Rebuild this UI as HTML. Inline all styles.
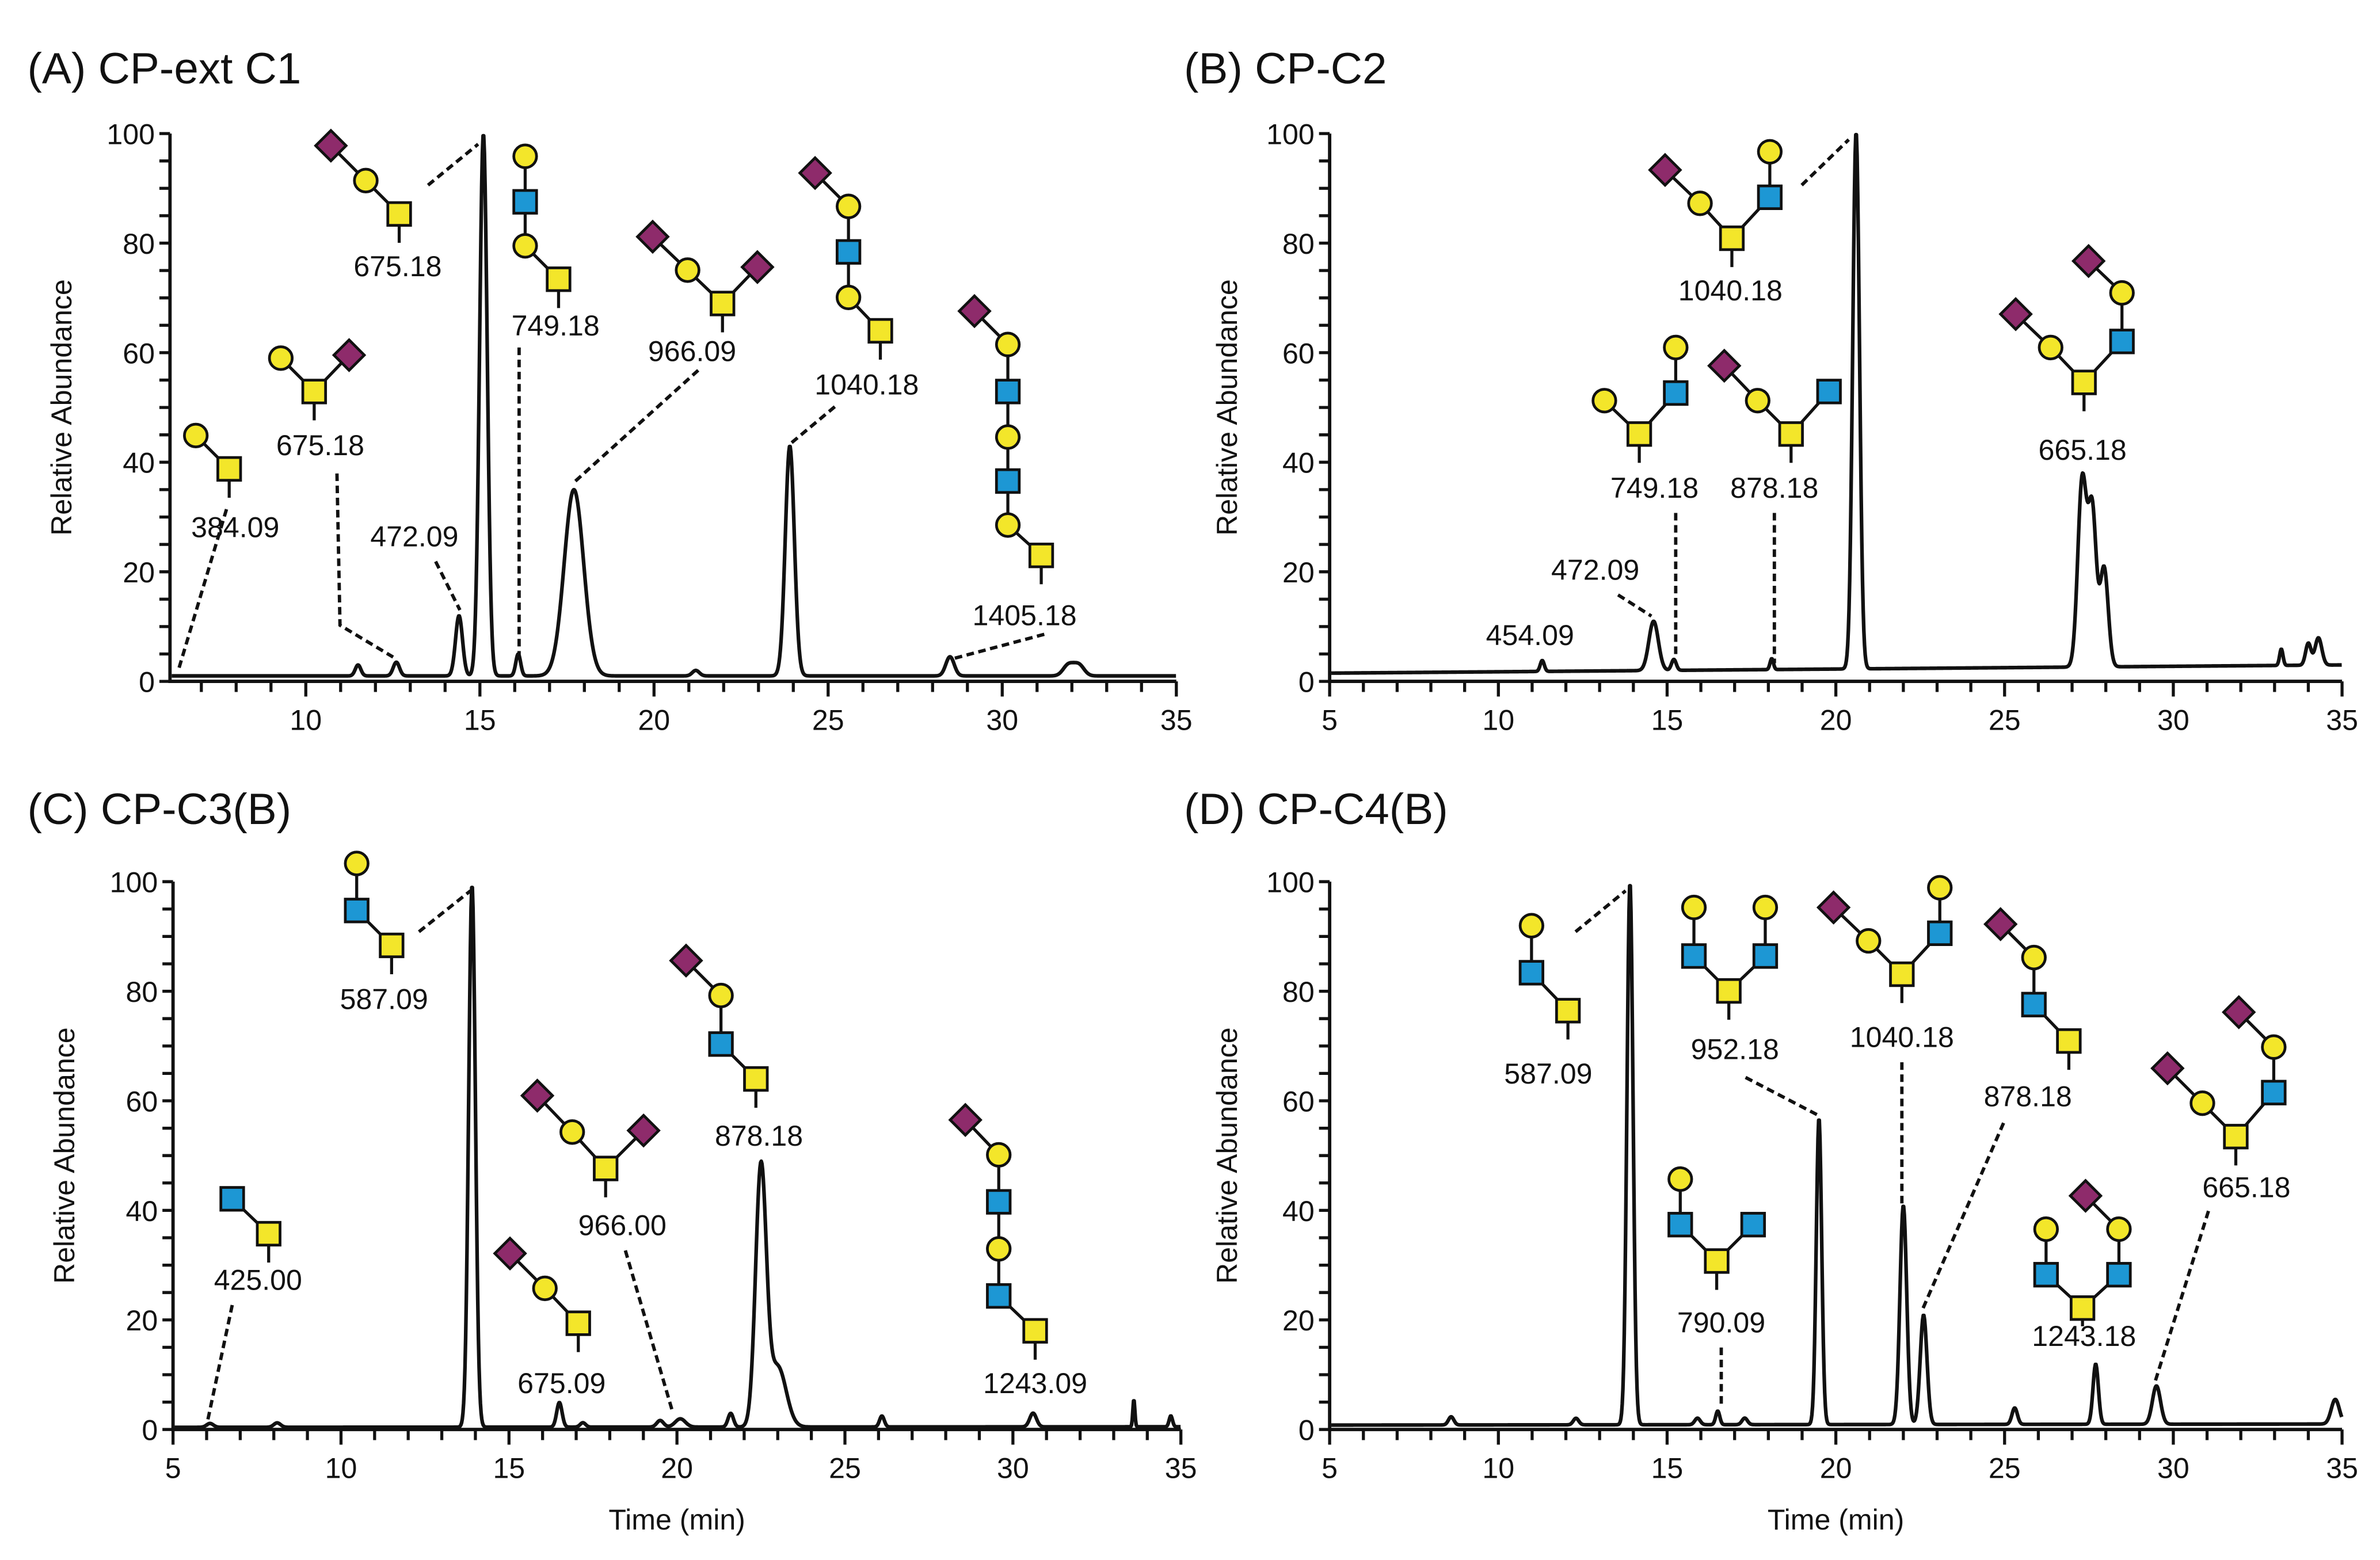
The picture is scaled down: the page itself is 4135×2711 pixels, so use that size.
<!DOCTYPE html>
<html><head><meta charset="utf-8"><style>
html,body{margin:0;padding:0;background:#fff;}
svg{display:block;}
text{font-family:"Liberation Sans",Arial,sans-serif;fill:#111;}
</style></head>
<body>
<svg id="fig" width="4135" height="2711" viewBox="0 0 1568 1028" xmlns="http://www.w3.org/2000/svg">
<rect width="1568" height="1028" fill="#fff"/>
</svg>
<script>
// ---------- data ----------
const aTimes   = [11.5, 12.6, 14.4, 15.1, 16.1, 17.7, 21.2, 23.9, 28.5, 31.9, 32.2];
const aHeights = [2, 2.5, 11, 99, 4, 34, 1, 42, 3.5, 2, 2];
const aWidths  = [0.08, 0.09, 0.1, 0.11, 0.07, 0.28, 0.1, 0.13, 0.12, 0.15, 0.15];
const aBase    = [1, 1];
const bTimes   = [11.3, 14.6, 15.2, 18.1, 20.6, 27.3, 27.6, 27.95, 33.2, 34.0, 34.3];
const bHeights = [2, 9, 2, 2, 98, 34, 28, 18, 3, 4, 5];
const bWidths  = [0.06, 0.14, 0.07, 0.05, 0.1, 0.13, 0.12, 0.12, 0.05, 0.08, 0.1];
const bBase    = [1.5, 3];
const cTimes   = [6.1, 8.1, 13.9, 16.5, 17.2, 19.5, 20.1, 21.6, 22.5, 23.0, 26.1, 30.6, 33.6, 34.7];
const cHeights = [0.7, 0.8, 99, 4.5, 0.8, 1.2, 1.5, 2.5, 47, 11, 2, 2.5, 5, 2];
const cWidths  = [0.1, 0.1, 0.1, 0.08, 0.08, 0.1, 0.15, 0.08, 0.16, 0.25, 0.07, 0.1, 0.03, 0.05];
const cBase    = [0.4, 0.5];
const dTimes   = [8.6, 12.3, 13.9, 15.9, 16.5, 17.3, 19.5, 22.0, 22.6, 25.3, 27.7, 29.5, 34.8];
const dHeights = [1.5, 1.2, 99, 1.2, 2.5, 1.2, 56, 40, 20, 3, 11, 7, 4.5];
const dWidths  = [0.08, 0.08, 0.09, 0.08, 0.06, 0.08, 0.08, 0.1, 0.1, 0.08, 0.08, 0.12, 0.12];
const dBase    = [0.8, 1];
const yTicks = [0, 20, 40, 60, 80, 100];
const xTicks = [5, 10, 15, 20, 25, 30, 35];

const NS = "http://www.w3.org/2000/svg";
const svg = document.getElementById('fig');
function el(tag, attrs, parent) {
  const e = document.createElementNS(NS, tag);
  for (const k in attrs) e.setAttribute(k, attrs[k]);
  (parent || svg).appendChild(e);
  return e;
}
function txt(s, x, y, size, anchor, parent, name) {
  const t = el('text', {x: x, y: y, 'font-size': size, 'text-anchor': anchor || 'middle'}, parent);
  t.textContent = s;
  
  
  return t;
}

const panels = [
  {id:'a', title:'(A) CP-ext C1', tx:18, ty:55, x0:112, x1:775, xmin:6.1, xmax:35, yTop:88, yBot:449, times:aTimes, heights:aHeights, widths:aWidths, base:aBase, ylx:47, xlabel:false},
  {id:'b', title:'(B) CP-C2', tx:780, ty:55, x0:876, x1:1543, xmin:5, xmax:35, yTop:88, yBot:449, times:bTimes, heights:bHeights, widths:bWidths, base:bBase, ylx:815, xlabel:false},
  {id:'c', title:'(C) CP-C3(B)', tx:18, ty:543, x0:114, x1:778, xmin:5, xmax:35, yTop:581, yBot:942, times:cTimes, heights:cHeights, widths:cWidths, base:cBase, ylx:49, xlabel:true},
  {id:'d', title:'(D) CP-C4(B)', tx:780, ty:543, x0:876, x1:1543, xmin:5, xmax:35, yTop:581, yBot:942, times:dTimes, heights:dHeights, widths:dWidths, base:dBase, ylx:815, xlabel:true}
];

panels.forEach(p => {
  const g = el('g', {});
  
  
  const sx = t => p.x0 + (t - p.xmin) / (p.xmax - p.xmin) * (p.x1 - p.x0);
  const sy = v => p.yBot - v / 100 * (p.yBot - p.yTop);
  txt(p.title, p.tx, p.ty, 29, 'start', g, 'panel-title');
  // y label
  const yl = txt('Relative Abundance', p.ylx, (p.yTop + p.yBot) / 2, 19, 'middle', g, 'y-axis-title');
  yl.setAttribute('transform', 'rotate(-90 ' + p.ylx + ' ' + ((p.yTop + p.yBot) / 2) + ')');
  if (p.xlabel) txt('Time (min)', (p.x0 + p.x1) / 2, 1008, 19, 'middle', g, 'x-axis-title');
  // axes
  const ax = el('path', {d: 'M' + p.x0 + ' ' + p.yTop + ' V' + p.yBot + ' H' + p.x1, stroke: '#111', 'stroke-width': 2.2, fill: 'none'}, g);
  
  
  // y ticks
  for (let v = 0; v <= 100; v += 5) {
    const tk = el('line', {x1: p.x0 - 7, x2: p.x0, y1: sy(v), y2: sy(v), stroke: '#111', 'stroke-width': 2}, g);
    
    
  }
  yTicks.forEach(v => txt(String(v), p.x0 - 10, sy(v) + 7, 19, 'end', g, 'y-tick-label'));
  // x ticks
  for (let t = Math.ceil(p.xmin); t <= p.xmax; t++) {
    const major = t % 5 === 0;
    const tk = el('line', {x1: sx(t), x2: sx(t), y1: p.yBot, y2: p.yBot + (major ? 10 : 7), stroke: '#111', 'stroke-width': 2}, g);
    
    
  }
  xTicks.forEach(t => { if (t >= p.xmin) txt(String(t), sx(t), p.yBot + 32, 19, 'middle', g, 'x-tick-label'); });
  // trace
  let d = '';
  for (let t = p.xmin + 0.05; t <= p.xmax; t += 0.02) {
    let v = p.base[0] + (p.base[1] - p.base[0]) * (t - p.xmin) / (p.xmax - p.xmin);
    for (let i = 0; i < p.times.length; i++) {
      const z = (t - p.times[i]) / p.widths[i];
      v += p.heights[i] * Math.exp(-0.5 * z * z);
    }
    d += (d ? 'L' : 'M') + sx(t).toFixed(2) + ' ' + sy(v).toFixed(2);
  }
  const tr = el('path', {d: d, stroke: '#111', 'stroke-width': 2.4, fill: 'none', 'stroke-linejoin': 'round'}, g);
  
  
});

// ---------- glycans ----------
const YEL = '#f3e62a', BLU = '#1d97d4', PUR = '#8e2b6b';
function glycan(name, nodes, edges, stem, label) {
  const g = el('g', {});
  
  
  edges.forEach(e => {
    const a = nodes[e[0]], b = nodes[e[1]];
    el('line', {x1: a[1], y1: a[2], x2: b[1], y2: b[2], stroke: '#111', 'stroke-width': 2}, g);
  });
  if (stem) el('line', {x1: stem[0], y1: stem[1], x2: stem[0], y2: stem[2], stroke: '#111', 'stroke-width': 2}, g);
  nodes.forEach(n => {
    const [t, x, y] = n;
    if (t === 'c') el('circle', {cx: x, cy: y, r: 7.5, fill: YEL, stroke: '#111', 'stroke-width': 1.8}, g);
    else if (t === 'y' || t === 'b') el('rect', {x: x - 7.5, y: y - 7.5, width: 15, height: 15, fill: t === 'y' ? YEL : BLU, stroke: '#111', 'stroke-width': 1.8}, g);
    else el('path', {d: 'M' + x + ' ' + (y - 10) + ' L' + (x + 10) + ' ' + y + ' L' + x + ' ' + (y + 10) + ' L' + (x - 10) + ' ' + y + 'Z', fill: PUR, stroke: '#111', 'stroke-width': 1.8}, g);
  });
  if (label) txt(label[0], label[1], label[2], 19, 'middle', g, 'mass-label');
}
function chain(n) { const e = []; for (let i = 0; i < n - 1; i++) e.push([i, i + 1]); return e; }
function dash(name, pts) {
  const l = el('polyline', {points: pts.map(p => p.join(',')).join(' '), stroke: '#111', 'stroke-width': 2.2, 'stroke-dasharray': '5,3', fill: 'none'});
  
  
}

// Panel A
glycan('a-384', [['c',129,287],['y',151,309]], chain(2), [151,316,328], ['384.09',155,354]);
glycan('a-675b', [['c',185,236],['y',207,258],['d',230,234]], chain(3), [207,265,277], ['675.18',211,300]);
glycan('a-675', [['d',218,96],['c',241,119],['y',263,141]], chain(3), [263,148,160], ['675.18',262,182]);
glycan('a-749', [['c',346,103],['b',346,133],['c',346,162],['y',368,184]], chain(4), [368,191,203], ['749.18',366,221]);
glycan('a-966', [['d',430,156],['c',453,178],['y',476,200],['d',499,176]], chain(4), [476,207,219], ['966.09',456,238]);
glycan('a-1040', [['d',537,114],['c',559,136],['b',559,166],['c',559,196],['y',580,218]], chain(5), [580,225,237], ['1040.18',571,260]);
glycan('a-1405', [['d',642,205],['c',664,227],['b',664,258],['c',664,288],['b',664,317],['c',664,346],['y',686,366]], chain(7), [686,373,385], ['1405.18',675,412]);
txt('472.09', 273, 360, 19, 'middle', svg, 'mass-label');
dash('a1', [[118,440],[150,333]]);
dash('a2', [[222,312],[224,412],[259,433]]);
dash('a3', [[287,370],[303,402]]);
dash('a4', [[282,122],[315,95]]);
dash('a5', [[342,229],[342,432]]);
dash('a6', [[460,244],[378,318]]);
dash('a7', [[550,268],[520,293]]);
dash('a8', [[688,418],[628,434]]);

// Panel B
glycan('b-1040', [['d',1097,112],['c',1120,134],['y',1141,157],['b',1166,130],['c',1166,100]], [[0,1],[1,2],[2,3],[3,4]], [1141,164,176], ['1040.18',1140,198]);
glycan('b-749', [['c',1057,264],['y',1080,286],['b',1104,259],['c',1104,229]], chain(4), [1080,293,305], ['749.18',1090,328]);
glycan('b-878', [['d',1136,241],['c',1158,264],['y',1180,286],['b',1205,258]], chain(4), [1180,293,305], ['878.18',1169,328]);
glycan('b-665', [['d',1328,207],['c',1351,229],['y',1373,252],['b',1398,225],['c',1398,193],['d',1376,172]], chain(6), [1373,259,271], ['665.18',1372,303]);
txt('472.09', 1051, 382, 19, 'middle', svg, 'mass-label');
txt('454.09', 1008, 425, 19, 'middle', svg, 'mass-label');
dash('b1', [[1187,122],[1218,92]]);
dash('b2', [[1104,338],[1104,432]]);
dash('b3', [[1169,338],[1169,437]]);
dash('b4', [[1066,392],[1088,406]]);

// Panel C
glycan('c-587', [['c',235,569],['b',235,600],['y',258,623]], chain(3), [258,630,642], ['587.09',253,665]);
glycan('c-425', [['b',153,790],['y',177,813]], chain(2), [177,820,832], ['425.00',170,850]);
glycan('c-966', [['d',354,722],['c',377,746],['y',399,770],['d',424,745]], chain(4), [399,777,789], ['966.00',410,814]);
glycan('c-675', [['d',336,826],['c',359,849],['y',381,872]], chain(3), [381,879,891], ['675.09',370,918]);
glycan('c-878', [['d',452,633],['c',475,656],['b',475,688],['y',498,711]], chain(4), [498,718,730], ['878.18',500,755]);
glycan('c-1243', [['d',636,738],['c',658,761],['b',658,792],['c',658,823],['b',658,854],['y',682,877]], chain(6), [682,884,896], ['1243.09',682,918]);
dash('c1', [[276,614],[310,587]]);
dash('c2', [[153,860],[136,940]]);
dash('c3', [[412,824],[443,930]]);

// Panel D
glycan('d-587', [['c',1009,610],['b',1009,641],['y',1033,666]], chain(3), [1033,673,685], ['587.09',1020,714]);
glycan('d-952', [['c',1116,598],['b',1116,630],['y',1139,653],['b',1163,630],['c',1163,598]], chain(5), [1139,660,672], ['952.18',1143,698]);
glycan('d-1040', [['d',1208,598],['c',1231,620],['y',1253,642],['b',1278,615],['c',1278,585]], chain(5), [1253,649,661], ['1040.18',1253,690]);
glycan('d-878', [['d',1318,609],['c',1340,631],['b',1340,662],['y',1363,686]], chain(4), [1363,693,705], ['878.18',1336,729]);
glycan('d-790', [['c',1107,777],['b',1107,807],['y',1131,831],['b',1155,807]], chain(4), [1131,838,850], ['790.09',1134,878]);
glycan('d-1243', [['c',1348,810],['b',1348,840],['y',1372,862],['b',1396,840],['c',1396,810],['d',1374,788]], [[0,1],[1,2],[2,3],[3,4],[4,5]], [1372,869,874], ['1243.18',1373,887]);
glycan('d-665', [['d',1428,704],['c',1451,727],['y',1473,749],['b',1498,720],['c',1498,690],['d',1475,667]], chain(6), [1473,756,768], ['665.18',1480,789]);
dash('d1', [[1038,614],[1071,587]]);
dash('d2', [[1150,710],[1198,735]]);
dash('d3', [[1253,700],[1253,795]]);
dash('d4', [[1320,740],[1267,862]]);
dash('d5', [[1134,888],[1134,928]]);
dash('d6', [[1455,798],[1420,910]]);
</script>
</body></html>
